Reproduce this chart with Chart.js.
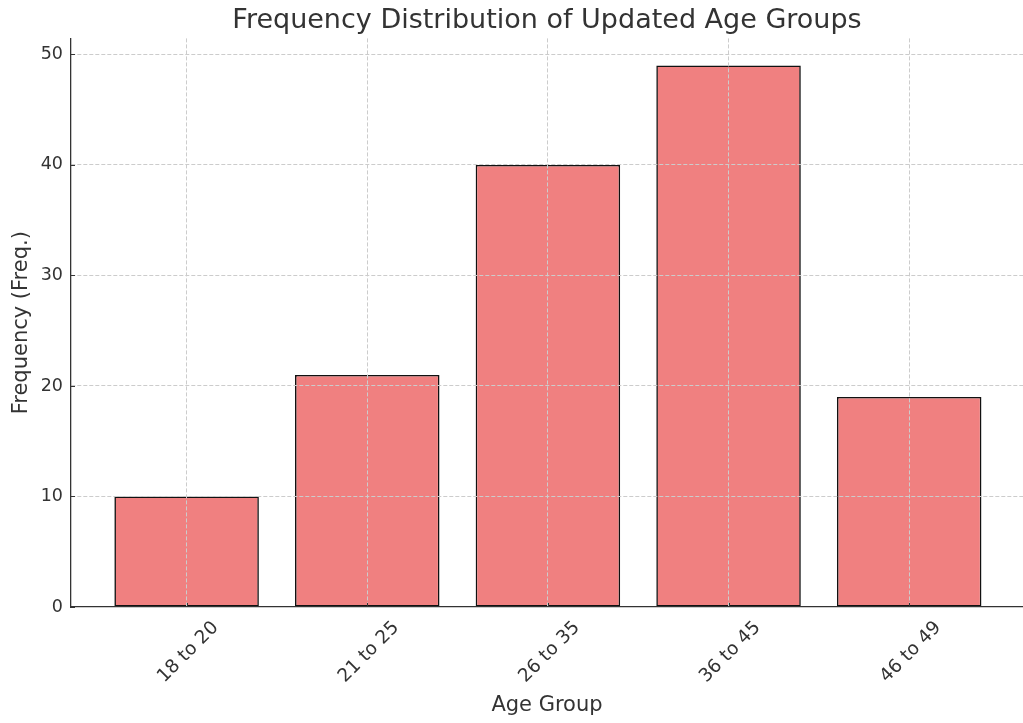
<!DOCTYPE html>
<html>
<head>
<meta charset="utf-8">
<script src="https://cdn.jsdelivr.net/npm/chart.js@4/dist/chart.umd.min.js"></script>
<style>
  html, body { margin: 0; padding: 0; background: #fff; }
  #wrap { width: 1023px; height: 723px; }
</style>
</head>
<body>
<div id="wrap"><canvas id="myChart" width="1023" height="723"></canvas></div>
<script>
// data
const ageGroups = ['18 to 20', '21 to 25', '26 to 35', '36 to 45', '46 to 49'];
const frequencies = [10, 21, 40, 49, 19];
const yTicks = [0, 10, 20, 30, 40, 50];

const fontFamily = "'DejaVu Sans', sans-serif";

// small inward tick marks, like the original axes
const innerTicks = {
  id: 'innerTicks',
  afterDraw(chart) {
    const ctx = chart.ctx;
    const x = chart.scales.x;
    const y = chart.scales.y;
    ctx.save();
    ctx.strokeStyle = '#333';
    ctx.lineWidth = 1;
    ctx.beginPath();
    ageGroups.forEach((g, i) => {
      const px = Math.round(x.getPixelForValue(i)) + 0.5;
      ctx.moveTo(px, y.bottom);
      ctx.lineTo(px, y.bottom - 4);
    });
    yTicks.forEach(v => {
      const py = Math.round(y.getPixelForValue(v)) + 0.5;
      ctx.moveTo(x.left, py);
      ctx.lineTo(x.left + 4, py);
    });
    ctx.stroke();
    ctx.restore();
  }
};

const ctx = document.getElementById('myChart').getContext('2d');
const myChart = new Chart(ctx, {
  type: 'bar',
  data: {
    datasets: [{
      data: frequencies.map((v, i) => ({ x: i, y: v })),
      backgroundColor: '#F08080',
      borderColor: '#111',
      borderWidth: 1.6,
      borderSkipped: false,
      barPercentage: 0.8,
      categoryPercentage: 1,
    }]
  },
  options: {
    responsive: false,
    animation: false,
    layout: { padding: 0 },
    plugins: {
      legend: { display: false },
      tooltip: { enabled: false },
      title: {
        display: true,
        fullSize: false, // centre over the plot area, not the canvas
        text: 'Frequency Distribution of Updated Age Groups',
        color: '#333',
        font: { family: fontFamily, size: 27, weight: 'normal' },
        padding: { top: 5, bottom: 1 },
      },
    },
    scales: {
      x: {
        type: 'linear',
        offset: false,
        min: -0.64,
        max: 4.63,
        afterBuildTicks: (scale) => {
          scale.ticks = ageGroups.map((g, i) => ({ value: i }));
        },
        afterFit: (scale) => { scale.height = 116; },
        ticks: {
          callback: (v) => ageGroups[v],
          color: '#333',
          font: { family: fontFamily, size: 18.5 },
          minRotation: 45,
          maxRotation: 45,
          labelOffset: 29,
          padding: 10,
        },
        grid: { color: '#cccccc', z: 1, drawTicks: false, offset: false },
        border: { color: '#333', width: 1.3, dash: [4, 2], z: 1 },
        title: {
          display: true,
          text: 'Age Group',
          color: '#333',
          font: { family: fontFamily, size: 21 },
          padding: { top: 0, bottom: 5 },
        },
      },
      y: {
        min: 0,
        max: 51.45,
        afterBuildTicks: (scale) => {
          scale.ticks = yTicks.map(v => ({ value: v }));
        },
        afterFit: (scale) => { scale.width = 71; },
        ticks: {
          color: '#333',
          font: { family: fontFamily, size: 17.5 },
          padding: 8,
        },
        grid: { color: '#cccccc', z: 1, drawTicks: false },
        border: { color: '#333', width: 1.3, dash: [4, 2], z: 1 },
        title: {
          display: true,
          text: 'Frequency (Freq.)',
          color: '#333',
          font: { family: fontFamily, size: 21 },
          padding: { top: 9, bottom: 0 },
        },
      },
    },
  },
  plugins: [innerTicks],
});
</script>
</body>
</html>
